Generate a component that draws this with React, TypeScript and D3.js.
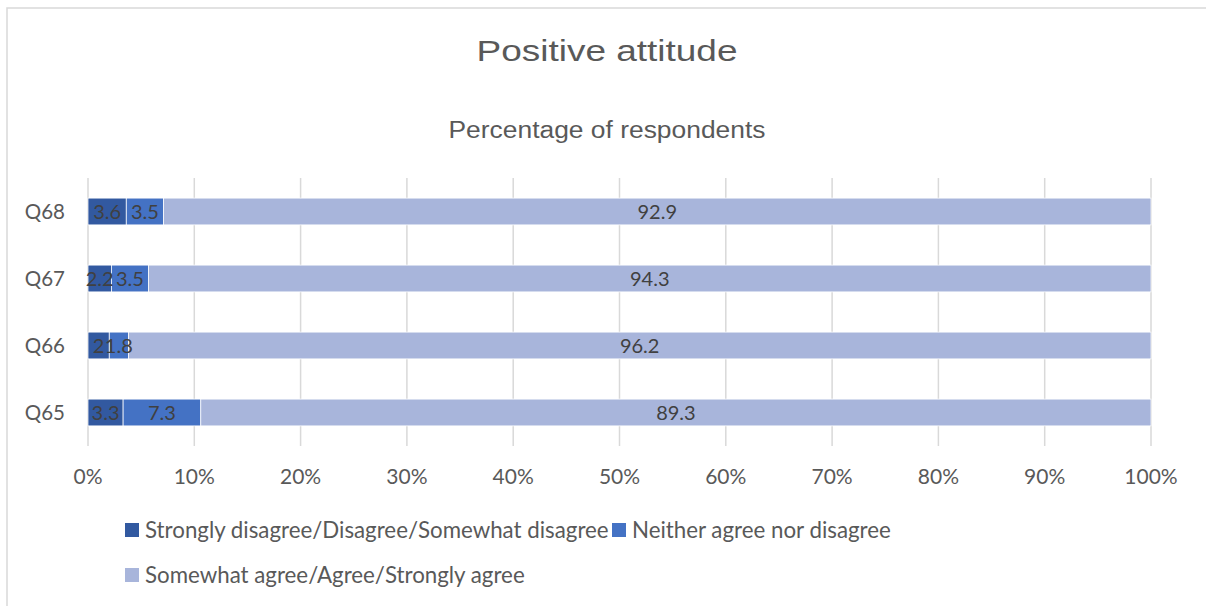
import React from "react";
import * as d3 from "d3";

// Survey items (top to bottom) and the share of respondents in each answer group
const categories = ["Q68", "Q67", "Q66", "Q65"];
const disagreeValues = [3.6, 2.2, 2, 3.3];
const neutralValues = [3.5, 3.5, 1.8, 7.3];
const agreeValues = [92.9, 94.3, 96.2, 89.3];

const seriesNames = [
  "Strongly disagree/Disagree/Somewhat disagree",
  "Neither agree nor disagree",
  "Somewhat agree/Agree/Strongly agree",
];
const seriesKeys = ["disagree", "neutral", "agree"];
const seriesColors = ["#3259A0", "#4472C4", "#A8B5DB"];
const tickValues = [0, 0.1, 0.2, 0.3, 0.4, 0.5, 0.6, 0.7, 0.8, 0.9, 1];

const W = 1206;
const H = 606;
const plot = { left: 88, right: 1151, top: 178, bottom: 446 };
const labelFont = "Lato, 'Open Sans', sans-serif";
const titleFont = "'Liberation Sans', Arial, sans-serif";

export default function App() {
  const rows = categories.map((c, i) => ({
    category: c,
    disagree: disagreeValues[i],
    neutral: neutralValues[i],
    agree: agreeValues[i],
  }));

  // 100% stacked layout: each row is normalised to its own total
  const stacked = d3
    .stack<any>()
    .keys(seriesKeys)
    .offset(d3.stackOffsetExpand)(rows);

  const x = d3.scaleLinear().domain([0, 1]).range([plot.left, plot.right]);
  const y = d3
    .scaleBand<string>()
    .domain(categories)
    .range([plot.top, plot.bottom])
    .paddingInner(0.6)
    .paddingOuter(0.3);

  const fmtTick = d3.format(".0%");

  const legendItems = [
    { name: seriesNames[0], color: seriesColors[0], x: 125, y: 530 },
    { name: seriesNames[1], color: seriesColors[1], x: 612, y: 530 },
    { name: seriesNames[2], color: seriesColors[2], x: 125, y: 575 },
  ];

  return (
    <div style={{ position: "absolute", left: 0, top: 0 }}>
      <svg width={W} height={H} style={{ display: "block", background: "#fff" }}>
        {/* chart frame */}
        <rect x={7} y={8} width={W + 10} height={H + 10} fill="#fff" stroke="#D9D9D9" strokeWidth={1.5} />

        {/* titles */}
        <text x={607} y={61} textAnchor="middle" fontFamily={titleFont} fontSize={30} fill="#595959" textLength={261} lengthAdjust="spacingAndGlyphs">
          Positive attitude
        </text>
        <text x={607} y={138} textAnchor="middle" fontFamily={titleFont} fontSize={23} fill="#595959" textLength={317} lengthAdjust="spacingAndGlyphs">
          Percentage of respondents
        </text>

        {/* vertical gridlines */}
        {tickValues.map((t) => (
          <line key={"g" + t} x1={x(t)} x2={x(t)} y1={plot.top} y2={plot.bottom} stroke="#D9D9D9" strokeWidth={1.5} />
        ))}

        {/* stacked bars */}
        {stacked.map((layer, si) =>
          layer.map((seg, ri) => (
            <rect
              key={layer.key + ri}
              x={x(seg[0])}
              y={y(categories[ri])}
              width={x(seg[1]) - x(seg[0])}
              height={y.bandwidth()}
              fill={seriesColors[si]}
              stroke="#fff"
              strokeWidth={0.75}
            />
          ))
        )}

        {/* data labels centred in each segment */}
        {stacked.map((layer, si) =>
          layer.map((seg, ri) => (
            <text
              key={"l" + layer.key + ri}
              x={(x(seg[0]) + x(seg[1])) / 2}
              y={(y(categories[ri]) as number) + y.bandwidth() / 2}
              dy="0.35em"
              textAnchor="middle"
              fontFamily={labelFont}
              fontSize={20}
              fill="#404040"
            >
              {String((seg.data as any)[layer.key])}
            </text>
          ))
        )}

        {/* category axis labels */}
        {categories.map((c) => (
          <text
            key={"c" + c}
            x={65}
            y={(y(c) as number) + y.bandwidth() / 2}
            dy="0.35em"
            textAnchor="end"
            fontFamily={labelFont}
            fontSize={20.5}
            fill="#595959"
          >
            {c}
          </text>
        ))}

        {/* value axis labels */}
        {tickValues.map((t) => (
          <text key={"t" + t} x={x(t)} y={477} dy="0.35em" textAnchor="middle" fontFamily={labelFont} fontSize={21} fill="#595959">
            {fmtTick(t)}
          </text>
        ))}

        {/* legend */}
        {legendItems.map((item) => (
          <g key={item.name} transform={`translate(${item.x},${item.y})`}>
            <rect x={0} y={-7} width={14} height={14} fill={item.color} />
            <text x={20} y={0} dy="0.35em" fontFamily={labelFont} fontSize={22.3} fill="#595959">
              {item.name}
            </text>
          </g>
        ))}
      </svg>
    </div>
  );
}
